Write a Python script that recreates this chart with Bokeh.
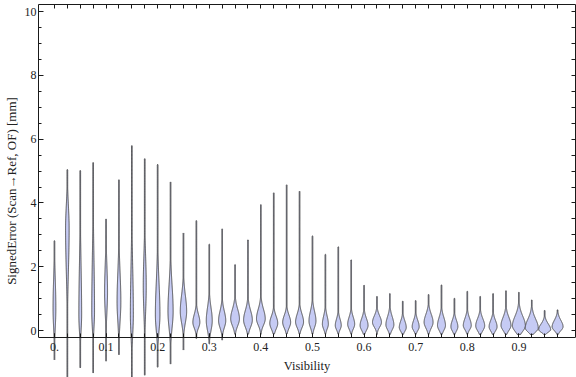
import numpy as np
from bokeh.plotting import figure
from bokeh.models import Range1d, LinearAxis, FixedTicker
from bokeh.embed import file_html
from bokeh.resources import INLINE

# ---- data ----
visibility = [0.0, 0.025, 0.05, 0.075, 0.1, 0.125, 0.15, 0.175, 0.2, 0.225,
              0.25, 0.275, 0.3, 0.325, 0.35, 0.375, 0.4, 0.425, 0.45, 0.475,
              0.5, 0.525, 0.55, 0.575, 0.6, 0.625, 0.65, 0.675, 0.7, 0.725,
              0.75, 0.775, 0.8, 0.825, 0.85, 0.875, 0.9, 0.925, 0.95, 0.975]
err_max = [2.82, 5.05, 5.02, 5.27, 3.50, 4.73, 5.80, 5.39, 5.21, 4.66,
           3.06, 3.45, 2.71, 3.19, 2.07, 2.85, 3.95, 4.32, 4.57, 4.37,
           2.97, 2.39, 2.63, 2.22, 1.42, 1.07, 1.16, 0.92, 0.94, 1.13,
           1.43, 1.01, 1.23, 1.07, 1.16, 1.25, 1.20, 0.96, 0.63, 0.65]
err_min = [-0.92, -1.60, -1.17, -1.33, -0.96, -0.76, -1.60, -1.40, -1.15, -1.05,
           -0.61, -0.25, -0.42, -0.30, -0.12, -0.12, -0.12, -0.12, -0.12, -0.12,
           -0.12, -0.12, -0.12, -0.12, -0.12, -0.12, -0.12, -0.12, -0.12, -0.12,
           -0.12, -0.12, -0.12, -0.12, -0.12, -0.12, -0.12, -0.12, -0.12, -0.12]
err_mode = [0.70, 3.20, 0.50, 0.60, 1.20, 0.90, 0.50, 1.40, 0.50, 0.60,
            0.60, 0.26, 0.31, 0.31, 0.37, 0.33, 0.37, 0.23, 0.26, 0.27,
            0.30, 0.20, 0.16, 0.20, 0.16, 0.26, 0.18, 0.10, 0.12, 0.26,
            0.16, 0.12, 0.16, 0.15, 0.12, 0.16, 0.15, 0.08, 0.03, 0.12]
half_width_px = [1.4, 1.8, 1.4, 1.4, 1.5, 1.9, 1.5, 1.5, 2.3, 2.6,
                 3.2, 3.5, 3.0, 3.6, 4.4, 4.4, 4.4, 4.0, 4.0, 4.0,
                 3.5, 3.0, 3.0, 3.5, 4.0, 4.5, 4.0, 3.5, 3.5, 4.5,
                 4.0, 3.5, 4.0, 4.5, 4.0, 5.0, 6.5, 6.5, 6.0, 5.5]
spread_low = [0.60, 1.30, 0.50, 0.50, 0.60, 0.60, 0.60, 0.80, 0.50, 0.50,
              0.35, 0.18, 0.30, 0.22, 0.22, 0.22, 0.20, 0.18, 0.18, 0.18,
              0.20, 0.15, 0.13, 0.15, 0.15, 0.15, 0.15, 0.12, 0.12, 0.18,
              0.15, 0.13, 0.13, 0.15, 0.13, 0.15, 0.17, 0.12, 0.08, 0.12]
spread_high = [0.90, 0.70, 1.50, 1.60, 0.80, 0.90, 1.40, 0.90, 1.00, 0.80,
               0.50, 0.25, 0.40, 0.30, 0.30, 0.30, 0.30, 0.22, 0.22, 0.25,
               0.30, 0.25, 0.20, 0.22, 0.22, 0.20, 0.25, 0.20, 0.20, 0.25,
               0.25, 0.20, 0.22, 0.22, 0.20, 0.25, 0.30, 0.28, 0.18, 0.20]
x_tick_labels = {0.0: "0.", 0.1: "0.1", 0.2: "0.2", 0.3: "0.3", 0.4: "0.4",
                 0.5: "0.5", 0.6: "0.6", 0.7: "0.7", 0.8: "0.8", 0.9: "0.9"}
y_major_ticks = [0, 2, 4, 6, 8, 10]
y_minor_ticks = [0.5, 1, 1.5, 2.5, 3, 3.5, 4.5, 5, 5.5, 6.5, 7, 7.5,
                 8.5, 9, 9.5]

# ---- layout ----
W, H = 576, 377
X0, X1 = -0.0309, 1.0097
Y0, Y1 = -1.47, 10.22
FRAME_BOTTOM = -0.22
FONT = "Liberation Serif"
TXT = "#222222"
LINE = "#1a1a1a"

p = figure(width=W, height=H, x_range=Range1d(X0, X1), y_range=Range1d(Y0, Y1),
           output_backend="svg", toolbar_location=None,
           min_border_left=36, min_border_right=1, min_border_top=4,
           min_border_bottom=0)
p.outline_line_color = None
p.grid.visible = False

# violin outlines (density-like profile built from the read parameters)
px2x = (X1 - X0) / 539.0
floor_px = 0.35
xs_list, ys_list = [], []
for xv, lo, hi, m, w, sl, sh in zip(visibility, err_min, err_max, err_mode,
                                     half_width_px, spread_low, spread_high):
    yy = np.linspace(lo, hi, 300)
    s = np.where(yy < m, sl, sh)
    hw = np.maximum(floor_px, w * np.exp(-0.5 * ((yy - m) / s) ** 2))
    hw[0] = 0.0
    hw[-1] = 0.0
    hw = hw * px2x
    xs_list.append(np.concatenate([xv - hw, (xv + hw)[::-1]]).tolist())
    ys_list.append(np.concatenate([yy, yy[::-1]]).tolist())

p.patches(xs_list, ys_list, fill_color="#c6cbf4", line_color="#404040",
          line_width=0.9)

# bottom (x) axis at the frame bottom; violins may dip below it
xa = p.xaxis[0]
xa.fixed_location = FRAME_BOTTOM
xa.ticker = FixedTicker(ticks=list(x_tick_labels.keys()), minor_ticks=visibility)
xa.major_label_overrides = dict(x_tick_labels)
xa.major_tick_in = 4
xa.major_tick_out = 0
xa.minor_tick_in = 4
xa.minor_tick_out = 0
xa.major_label_standoff = 5
xa.axis_label = "Visibility"
xa.axis_label_standoff = 5

ya = p.yaxis[0]
ya.ticker = FixedTicker(ticks=y_major_ticks, minor_ticks=y_minor_ticks)
ya.bounds = (FRAME_BOTTOM, Y1)
ya.major_tick_in = 5
ya.major_tick_out = 0
ya.minor_tick_in = 3
ya.minor_tick_out = 0
ya.major_label_standoff = 2
ya.axis_label = "SignedError (Scan\u2192Ref, OF) [mm]"
ya.axis_label_standoff = 3

# frame right side: ticks only, no labels
ra = LinearAxis(ticker=FixedTicker(ticks=[], minor_ticks=y_major_ticks + y_minor_ticks),
                bounds=(FRAME_BOTTOM, Y1))
ra.minor_tick_in = 4
ra.minor_tick_out = 0
ra.major_tick_in = 0
ra.major_tick_out = 0
p.add_layout(ra, "right")

# frame top side: ticks only, no labels
ta = LinearAxis(ticker=FixedTicker(ticks=[], minor_ticks=visibility))
ta.minor_tick_in = 4
ta.minor_tick_out = 0
ta.major_tick_in = 0
ta.major_tick_out = 0
p.add_layout(ta, "above")

for ax in [xa, ya, ra, ta]:
    ax.axis_line_color = LINE
    ax.major_tick_line_color = LINE
    ax.minor_tick_line_color = LINE
    ax.axis_line_width = 1
    ax.major_label_text_font = FONT
    ax.major_label_text_color = TXT
    ax.major_label_text_font_size = "12px"
    ax.axis_label_text_font = FONT
    ax.axis_label_text_font_style = "normal"
    ax.axis_label_text_color = TXT
xa.axis_label_text_font_size = "12.5px"
ya.axis_label_text_font_size = "13px"

open("out.html", "w").write(file_html(p, INLINE))
